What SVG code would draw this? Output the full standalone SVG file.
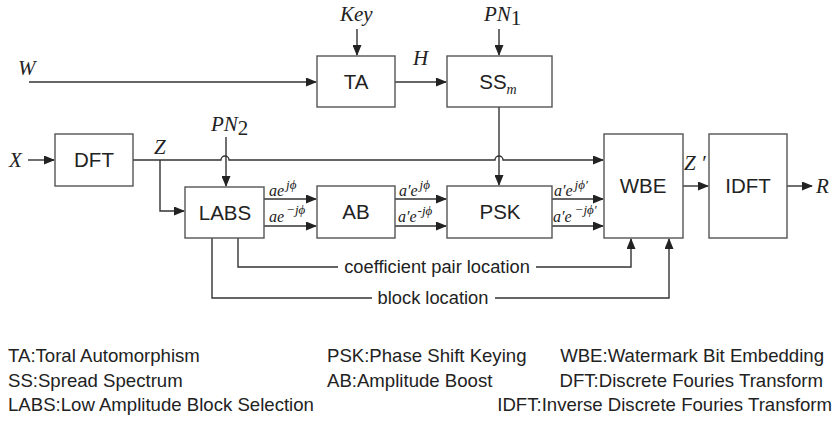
<svg xmlns="http://www.w3.org/2000/svg" width="834" height="421" viewBox="0 0 834 421">
<defs>
<marker id="ah" markerUnits="userSpaceOnUse" markerWidth="11" markerHeight="9" refX="10" refY="4.5" orient="auto">
<path d="M0,0 L11,4.5 L0,9 z" fill="#222"/>
</marker>
<style>
.box{fill:#fff;stroke:#555;stroke-width:1.4}
.ln{fill:none;stroke:#333;stroke-width:1.4}
.bl{font-family:"Liberation Sans",Arial,sans-serif;font-size:20.5px;fill:#222;text-anchor:middle}
.mi{font-family:"Liberation Serif","Times New Roman",serif;font-style:italic;font-size:21px;fill:#222}
.sm{font-family:"Liberation Serif","Times New Roman",serif;font-style:italic;font-size:16px;fill:#222}
.sup{font-size:13px}
.lg{font-family:"Liberation Sans",Arial,sans-serif;font-size:18.6px;fill:#222}
.lc{font-family:"Liberation Sans",Arial,sans-serif;font-size:18.3px;fill:#222;text-anchor:middle}
</style>
</defs>
<rect width="834" height="421" fill="#fff"/>

<g id="connectors">
<path class="ln" d="M29,82 H316" marker-end="url(#ah)"/>
<path class="ln" d="M357,29 V55" marker-end="url(#ah)"/>
<path class="ln" d="M395,82 H446" marker-end="url(#ah)"/>
<path class="ln" d="M499,29 V55" marker-end="url(#ah)"/>
<path class="ln" d="M499,107 V185" marker-end="url(#ah)"/>
<path class="ln" d="M28,160 H54" marker-end="url(#ah)"/>
<path class="ln" d="M133,160 H221 A4,4 0 0 1 229,160 H495 A4,4 0 0 1 503,160 H603" marker-end="url(#ah)"/>
<path class="ln" d="M160,160 V211 H184" marker-end="url(#ah)"/>
<path class="ln" d="M226,137 V186" marker-end="url(#ah)"/>
<path class="ln" d="M264,199 H316" marker-end="url(#ah)"/>
<path class="ln" d="M264,226 H316" marker-end="url(#ah)"/>
<path class="ln" d="M395,199 H446" marker-end="url(#ah)"/>
<path class="ln" d="M395,226 H446" marker-end="url(#ah)"/>
<path class="ln" d="M552,199 H603" marker-end="url(#ah)"/>
<path class="ln" d="M552,226 H603" marker-end="url(#ah)"/>
<path class="ln" d="M683,186 H708" marker-end="url(#ah)"/>
<path class="ln" d="M787,186 H812" marker-end="url(#ah)"/>
<path class="ln" d="M238,238 V267 H338"/>
<path class="ln" d="M536,267 H631 V239" marker-end="url(#ah)"/>
<path class="ln" d="M212,238 V298 H372"/>
<path class="ln" d="M495,298 H669 V239" marker-end="url(#ah)"/>
</g>

<g id="TA"><rect class="box" x="317" y="56" width="78" height="51"/><text class="bl" x="356" y="89">TA</text></g>
<g id="SS"><rect class="box" x="447" y="56" width="105" height="51"/><text class="bl" x="498" y="89">SS<tspan class="mi" style="font-size:14px" dy="5">m</tspan></text></g>
<g id="DFT"><rect class="box" x="55" y="134" width="78" height="52"/><text class="bl" x="94" y="167">DFT</text></g>
<g id="LABS"><rect class="box" x="185" y="187" width="79" height="51"/><text class="bl" x="225" y="220">LABS</text></g>
<g id="AB"><rect class="box" x="317" y="186" width="78" height="52"/><text class="bl" x="356" y="219">AB</text></g>
<g id="PSK"><rect class="box" x="447" y="186" width="105" height="52"/><text class="bl" x="500" y="219">PSK</text></g>
<g id="WBE"><rect class="box" x="604" y="134" width="79" height="104"/><text class="bl" x="643" y="193">WBE</text></g>
<g id="IDFT"><rect class="box" x="709" y="134" width="78" height="104"/><text class="bl" x="748" y="193">IDFT</text></g>

<g id="labels">
<text class="mi" x="18" y="75">W</text>
<text class="mi" x="340" y="21">Key</text>
<text class="mi" x="484" y="21">PN<tspan style="font-style:normal" dy="4">1</tspan></text>
<text class="mi" x="413" y="65">H</text>
<text class="mi" x="9" y="167">X</text>
<text class="mi" x="154" y="154">Z</text>
<text class="mi" x="211" y="131">PN<tspan style="font-style:normal" dy="4">2</tspan></text>
<text class="mi" x="684" y="170">Z ′</text>
<text class="mi" x="816" y="193">R</text>
<text class="sm" x="269" y="196">ae<tspan class="sup" dx="2" dy="-7">jϕ</tspan></text>
<text class="sm" x="269" y="222">ae<tspan class="sup" dx="2" dy="-8">−jϕ</tspan></text>
<text class="sm" x="399" y="196">a′e<tspan class="sup" dx="2" dy="-7">jϕ</tspan></text>
<text class="sm" x="398" y="222">a′e<tspan class="sup" dx="1" dy="-7">-jϕ</tspan></text>
<text class="sm" x="554" y="196">a′e<tspan class="sup" dx="2" dy="-7">jϕ′</tspan></text>
<text class="sm" x="553" y="222">a′e<tspan class="sup" dx="3" dy="-8">−jϕ′</tspan></text>
<text class="lc" x="437" y="273">coefficient pair location</text>
<text class="lc" x="433" y="304">block location</text>
</g>

<g id="legend">
<text class="lg" x="8" y="362">TA:Toral Automorphism</text>
<text class="lg" x="8" y="387">SS:Spread Spectrum</text>
<text class="lg" x="8" y="411">LABS:Low Amplitude Block Selection</text>
<text class="lg" x="327" y="362">PSK:Phase Shift Keying</text>
<text class="lg" x="327" y="387">AB:Amplitude Boost</text>
<text class="lg" x="824" y="362" text-anchor="end">WBE:Watermark Bit Embedding</text>
<text class="lg" x="823" y="387" text-anchor="end">DFT:Discrete Fouries Transform</text>
<text class="lg" x="832" y="411" text-anchor="end">IDFT:Inverse Discrete Fouries Transform</text>
</g>
</svg>
